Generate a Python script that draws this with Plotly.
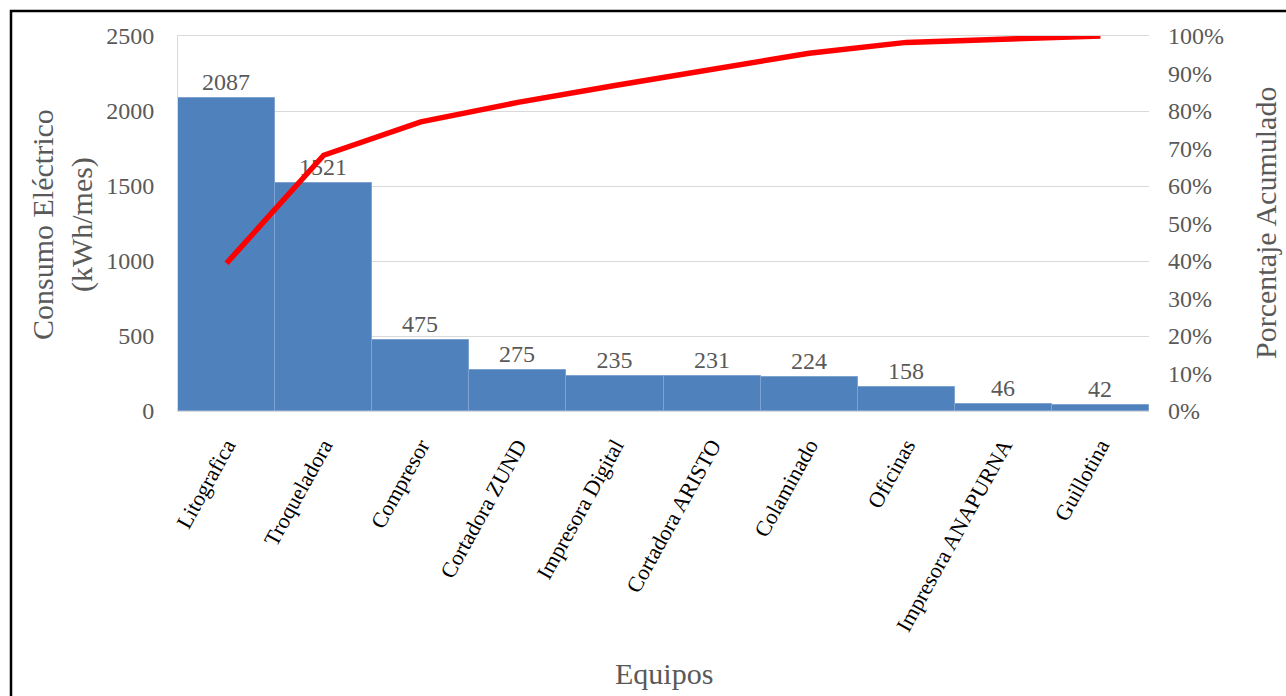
import plotly.graph_objects as go

equipos = ["Litografica", "Troqueladora", "Compresor", "Cortadora ZUND", "Impresora Digital",
           "Cortadora ARISTO", "Colaminado", "Oficinas", "Impresora ANAPURNA", "Guillotina"]
consumo = [2087, 1521, 475, 275, 235, 231, 224, 158, 46, 42]
porcentaje_acum = [39.4, 68.2, 77.1, 82.3, 86.8, 91.1, 95.4, 98.3, 99.2, 100.0]

FONT = "Liberation Serif, Times New Roman, serif"
GRAY = "#595959"

fig = go.Figure()
fig.add_trace(go.Bar(
    x=equipos, y=consumo,
    marker=dict(color="#4F81BD", line=dict(color="#7FA3D1", width=1)),
    text=[str(v) for v in consumo], textposition="outside",
    textfont=dict(family=FONT, size=24, color=GRAY),
    cliponaxis=False, showlegend=False,
))
fig.add_trace(go.Scatter(
    x=equipos, y=porcentaje_acum, yaxis="y2", mode="lines",
    line=dict(color="#FF0000", width=5.5), showlegend=False,
))

fig.update_layout(
    width=1286, height=696,
    margin=dict(l=178, r=137, t=36, b=285),
    paper_bgcolor="white", plot_bgcolor="white",
    bargap=0,
    font=dict(family=FONT),
    xaxis=dict(
        tickangle=-61, tickfont=dict(family=FONT, size=22, color="black"),
        showline=True, linecolor="#D9D9D9", mirror=True, showgrid=False,
        ticks="", ticklabelstandoff=12,
    ),
    yaxis=dict(
        range=[0, 2500], dtick=500, showgrid=True, gridcolor="#D9D9D9",
        tickfont=dict(family=FONT, size=24, color=GRAY),
        ticklabelstandoff=18, zeroline=False,
        showline=True, linecolor="#D9D9D9",
    ),
    yaxis2=dict(
        range=[0, 100], dtick=10, overlaying="y", side="right",
        ticksuffix="%", showgrid=False, zeroline=False,
        tickfont=dict(family=FONT, size=24, color=GRAY),
        ticklabelstandoff=18,
    ),
    annotations=[
        dict(text="Consumo Eléctrico<br>(kWh/mes)", textangle=-90, xref="paper", yref="paper",
             x=(62 - 178) / 971, y=1 - (225 - 36) / 375, xanchor="center", yanchor="middle",
             showarrow=False, font=dict(family=FONT, size=30, color=GRAY)),
        dict(text="Porcentaje Acumulado", textangle=-90, xref="paper", yref="paper",
             x=(1266 - 178) / 971, y=1 - (223 - 36) / 375, xanchor="center", yanchor="middle",
             showarrow=False, font=dict(family=FONT, size=30, color=GRAY)),
        dict(text="Equipos", xref="paper", yref="paper",
             x=(664 - 178) / 971, y=1 - (673 - 36) / 375, xanchor="center", yanchor="middle",
             showarrow=False, font=dict(family=FONT, size=30, color=GRAY)),
    ],
    shapes=[
        dict(type="rect", xref="paper", yref="paper",
             x0=(11 - 178) / 971, x1=(1300 - 178) / 971,
             y0=1 - (720 - 36) / 375, y1=1 + (36 - 11) / 375,
             line=dict(color="black", width=2.5), fillcolor="rgba(0,0,0,0)", layer="above"),
    ],
)

fig.write_html("out.html")
